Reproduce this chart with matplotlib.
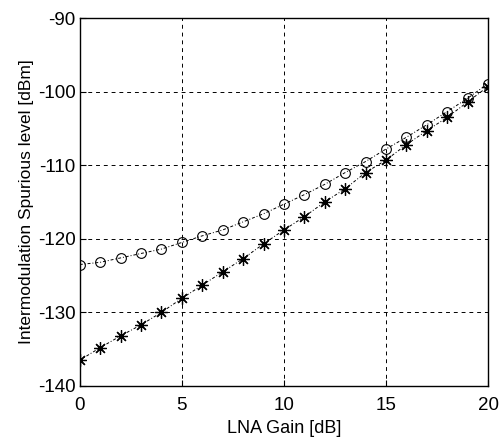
import matplotlib
matplotlib.use("Agg")
import matplotlib.pyplot as plt

plt.rcParams['font.family'] = ['Liberation Sans', 'DejaVu Sans']
plt.rcParams['axes.unicode_minus'] = False

# LNA gain [dB]
gain = list(range(0, 21))

# intermodulation spurious level [dBm], circles
circ = [-123.5, -123.2, -122.6, -122.0, -121.4, -120.5, -119.6, -118.8, -117.7, -116.6,
        -115.3, -114.0, -112.6, -111.0, -109.5, -107.8, -106.2, -104.5, -102.7, -100.9, -98.9]

# asterisks
star = [-136.5, -134.8, -133.2, -131.7, -130.0, -128.1, -126.3, -124.5, -122.7, -120.7,
        -118.8, -117.0, -115.0, -113.2, -111.0, -109.3, -107.2, -105.3, -103.5, -101.4, -99.3]

xticks = [0, 5, 10, 15, 20]
yticks = [-140, -130, -120, -110, -100, -90]

fig = plt.figure(figsize=(4.99, 4.42), dpi=100)
ax = fig.add_axes([0.160, 0.127, 0.818, 0.832])

ax.plot(gain, circ, color='black', linewidth=0.7, linestyle=(0, (3, 2, 1, 2)),
        marker='o', markersize=7, markerfacecolor='none', markeredgewidth=0.8)
ax.plot(gain, star, color='black', linewidth=0.7, linestyle=(0, (3, 2, 1, 2)),
        marker=(8, 2, 0), markersize=9, markeredgewidth=0.9)

ax.set_xlim(0, 20)
ax.set_ylim(-140, -90)
ax.set_xticks(xticks)
ax.set_yticks(yticks)
ax.grid(True, color='black', linestyle=(0, (4, 4)), linewidth=0.7)
ax.tick_params(direction='in', labelsize=13.5, length=4)
ax.tick_params(axis='x', pad=8)
ax.tick_params(axis='y', pad=3)
for s in ax.spines.values():
    s.set_linewidth(1.0)

ax.set_xlabel('LNA Gain [dB]', fontsize=13, labelpad=4)
ax.set_ylabel('Intermodulation Spurious level [dBm]', fontsize=12.5, labelpad=3)

fig.savefig('out.png', dpi=100)
